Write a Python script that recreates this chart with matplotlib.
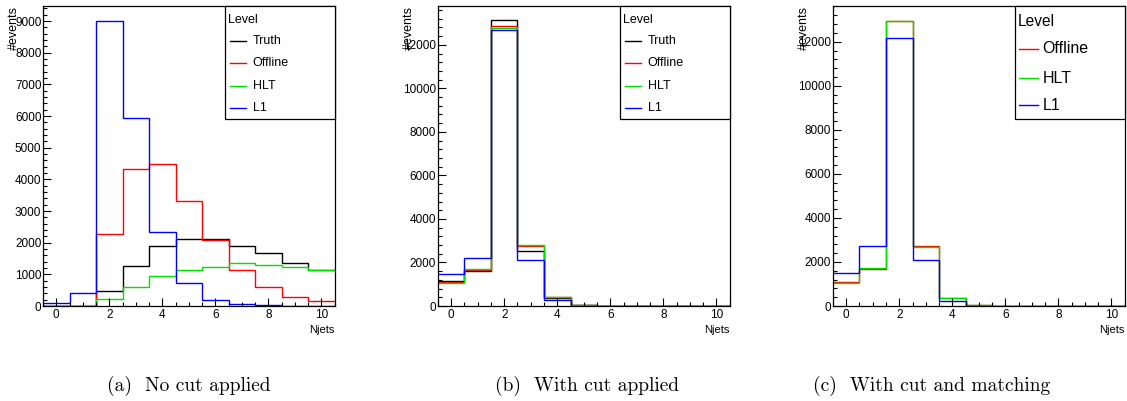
import numpy as np
import matplotlib
matplotlib.use("Agg")
import matplotlib.pyplot as plt
from matplotlib.patches import Rectangle
from matplotlib.lines import Line2D
from matplotlib.ticker import MultipleLocator

plt.rcParams['font.family'] = ['Liberation Sans', 'DejaVu Sans']

# Njets bins 0..10
edges = np.arange(-0.5, 11.0, 1.0)

# (a) no cut applied
a_truth = [0, 0, 480, 1270, 1890, 2110, 2120, 1880, 1670, 1370, 1140]
a_offline = [0, 0, 2270, 4340, 4470, 3310, 2090, 1150, 590, 300, 150]
a_hlt = [0, 0, 220, 590, 935, 1145, 1225, 1350, 1310, 1220, 1150]
a_l1 = [105, 415, 9000, 5930, 2340, 730, 200, 55, 20, 10, 5]

# (b) with cut applied
b_truth = [1170, 1600, 13120, 2520, 350, 30, 5, 0, 0, 0, 0]
b_offline = [1110, 1670, 12850, 2770, 400, 50, 5, 0, 0, 0, 0]
b_hlt = [1040, 1720, 12790, 2790, 415, 60, 5, 0, 0, 0, 0]
b_l1 = [1480, 2220, 12700, 2100, 260, 10, 0, 0, 0, 0, 0]

# (c) with cut and matching
c_offline = [1090, 1670, 12950, 2720, 380, 50, 5, 0, 0, 0, 0]
c_hlt = [1060, 1730, 12950, 2700, 380, 50, 5, 0, 0, 0, 0]
c_l1 = [1520, 2740, 12190, 2080, 240, 10, 0, 0, 0, 0, 0]

captions = ["(a)  No cut applied", "(b)  With cut applied", "(c)  With cut and matching"]
colors = {"Truth": "black", "Offline": "#ff0000", "HLT": "#00e000", "L1": "#0000ff"}

panels = [
    (0.0382, 9475, 1000, 200, [("Truth", a_truth), ("Offline", a_offline), ("HLT", a_hlt), ("L1", a_l1)], 9, 9),
    (0.3886, 13780, 2000, 400, [("Truth", b_truth), ("Offline", b_offline), ("HLT", b_hlt), ("L1", b_l1)], 9, 9),
    (0.7391, 13620, 2000, 400, [("Offline", c_offline), ("HLT", c_hlt), ("L1", c_l1)], 11.2, 11.5),
]

fig = plt.figure(figsize=(11.27, 4.01), dpi=100)

for i, (left, ymax, major, minor, series, head_fs, ent_fs) in enumerate(panels):
    ax = fig.add_axes([left, 0.2369, 0.2588, 0.748])
    for name, vals in series:
        ax.stairs(vals, edges, color=colors[name], lw=1.0, baseline=None)
    ax.set_xlim(-0.5, 10.5)
    ax.set_ylim(0, ymax)
    ax.xaxis.set_major_locator(MultipleLocator(2))
    ax.xaxis.set_minor_locator(MultipleLocator(0.5))
    ax.yaxis.set_major_locator(MultipleLocator(major))
    ax.yaxis.set_minor_locator(MultipleLocator(minor))
    ax.tick_params(which='both', direction='in', top=False, right=False, labelsize=8.5,
                   colors='black', width=0.8)
    ax.tick_params(which='major', length=5.8)
    ax.tick_params(which='minor', length=2.9)
    ax.tick_params(axis='y', pad=1.2)
    ax.tick_params(axis='x', pad=2.5)
    for s in ax.spines.values():
        s.set_linewidth(0.9)

    ax.text(1.0, -0.062, "Njets", transform=ax.transAxes, ha='right', va='top', fontsize=8)
    # ROOT puts the y title at the top, over the tick labels
    ax.text(-0.1, 1.0, "#events", transform=ax.transAxes, rotation=90,
            ha='center', va='top', fontsize=9)

    # legend box drawn like ROOT's TLegend
    big = len(series) == 3
    ax.add_patch(Rectangle((0.625, 0.624), 0.375, 0.376, transform=ax.transAxes,
                           facecolor='white', edgecolor='black', lw=0.9, zorder=5, clip_on=False))
    ax.text(0.634, 0.955 if not big else 0.948, "Level", transform=ax.transAxes,
            ha='left', va='center', fontsize=head_fs, zorder=6)
    ys = [0.883, 0.81, 0.733, 0.66] if not big else [0.857, 0.76, 0.67]
    x0, x1, xt = (0.64, 0.695, 0.719) if not big else (0.639, 0.704, 0.718)
    for (name, _), y in zip(series, ys):
        ax.add_line(Line2D([x0, x1], [y, y], transform=ax.transAxes, color=colors[name],
                           lw=1.0, zorder=6))
        ax.text(xt, y, name, transform=ax.transAxes, ha='left', va='center',
                fontsize=ent_fs, zorder=6)

for x, cap in zip([189, 587, 932], captions):
    fig.text(x / 1127, 1 - 386 / 401, cap, ha='center', va='center', fontsize=14,
             family='cmr10')

fig.savefig("out.png", dpi=100)
